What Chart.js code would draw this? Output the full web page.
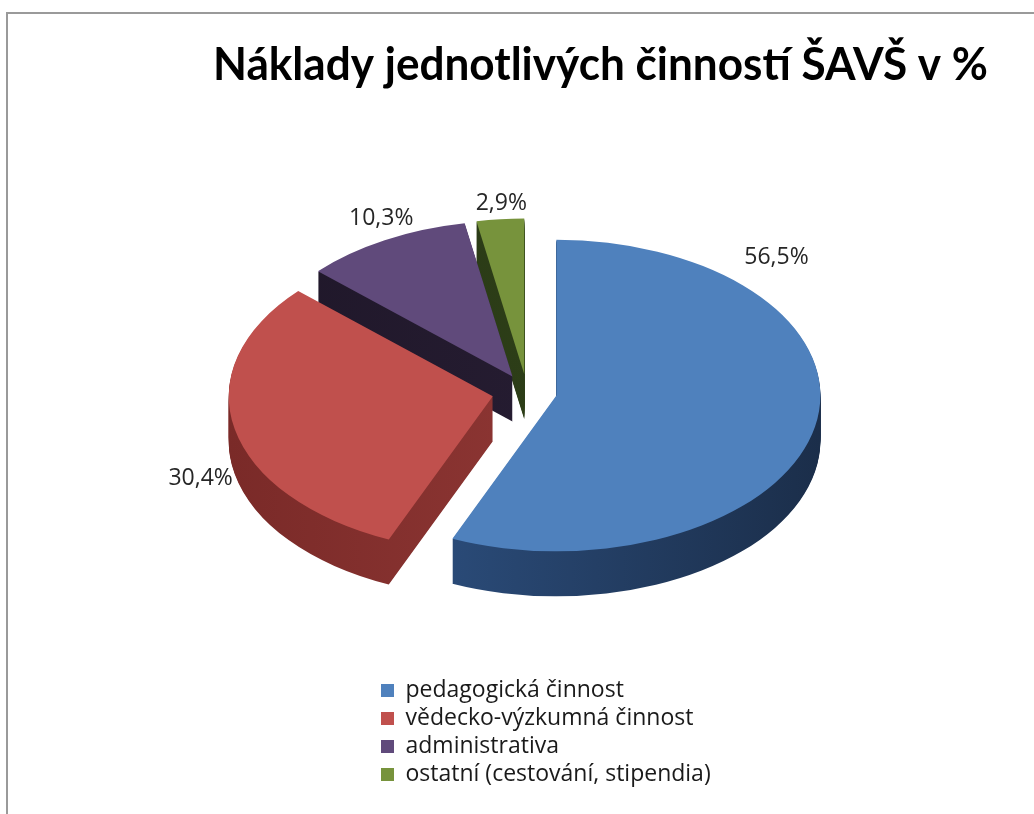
<!DOCTYPE html>
<html>
<head>
<meta charset="utf-8">
<script src="https://cdn.jsdelivr.net/npm/chart.js@4.4.1/dist/chart.umd.min.js"></script>
<style>
  html, body { margin: 0; padding: 0; background: #fff; overflow: hidden; }
  #wrap { position: relative; width: 1034px; height: 814px; }
  #c { position: absolute; left: 0; top: 0; }
  #frame { position: absolute; left: 6px; top: 12px; width: 1100px; height: 900px;
           border-left: 2px solid #9a9a9a; border-top: 2px solid #9a9a9a; pointer-events: none; }
</style>
</head>
<body>
<div id="wrap">
  <canvas id="c" width="1034" height="814"></canvas>
  <div id="frame"></div>
</div>
<script>
// ---- data ----
const chartTitle = 'Náklady jednotlivých činností ŠAVŠ v %';
const categories = ['pedagogická činnost', 'vědecko-výzkumná činnost', 'administrativa', 'ostatní (cestování, stipendia)'];
const shares = [56.5, 30.4, 10.3, 2.9];

// ---- style ----
const topColors = ['#4F81BD', '#C0504D', '#604A7B', '#77933C'];
const sideColors = [['#30568A', '#1B2E4A'], ['#7A2A28', '#9A3E3B'], ['#1F1729', '#2A2037'], ['#263514', '#33461B']];
const explode = [30, 35, 30, 30];
const labelPlace = [[0.213, 1.216], [0.377, 1.227], [0.577, 1.13], [0.565, 1.10]];
const PIE = { cx: 527, cy: 392, r: 264, tilt: 0.59, depth: 45 };
const TITLE_FONT = 'Lato, "Open Sans", "Noto Sans", sans-serif';
const TEXT_FONT = '"Open Sans", "Noto Sans", Lato, sans-serif';

function fmtPct(v) { return v.toFixed(1).replace('.', ',') + '%'; }

function drawArcWith(ctx, arc, i, fill) {
  const saved = arc.options;
  arc.options = Object.assign({}, saved, { backgroundColor: fill, borderColor: fill, borderWidth: 0, offset: 0, spacing: 0 });
  const h = (arc.startAngle + arc.endAngle) / 2;
  ctx.save();
  ctx.translate(Math.cos(h) * explode[i], Math.sin(h) * explode[i]);
  arc.draw(ctx);
  ctx.restore();
  arc.options = saved;
}

const pie3d = {
  id: 'pie3d',
  beforeDatasetsDraw(chart) {
    const ctx = chart.ctx;
    const arcs = chart.getDatasetMeta(0).data;
    const cxL = arcs[0].x, cyL = arcs[0].y;
    const sideFills = sideColors.map(([a, b]) => {
      const g = ctx.createLinearGradient(cxL - PIE.r, 0, cxL + PIE.r, 0);
      g.addColorStop(0, a); g.addColorStop(1, b);
      return g;
    });
    for (let d = PIE.depth; d >= 1; d--) {
      ctx.save();
      ctx.translate(PIE.cx - cxL, PIE.cy + d);
      ctx.scale(1, PIE.tilt);
      ctx.translate(0, -cyL);
      arcs.forEach((arc, i) => drawArcWith(ctx, arc, i, sideFills[i]));
      ctx.restore();
    }
    ctx.save();
    ctx.translate(PIE.cx - cxL, PIE.cy);
    ctx.scale(1, PIE.tilt);
    ctx.translate(0, -cyL);
    arcs.forEach((arc, i) => drawArcWith(ctx, arc, i, topColors[i]));
    ctx.restore();
    return false;
  },
  afterDraw(chart) {
    const ctx = chart.ctx;
    const arcs = chart.getDatasetMeta(0).data;
    ctx.save();
    ctx.font = '23px ' + TEXT_FONT;
    ctx.fillStyle = '#262626';
    ctx.textAlign = 'center';
    ctx.textBaseline = 'middle';
    arcs.forEach((arc, i) => {
      const [f, rf] = labelPlace[i];
      const a = arc.startAngle + f * (arc.endAngle - arc.startAngle);
      const h = (arc.startAngle + arc.endAngle) / 2;
      const R = arc.outerRadius * rf;
      const dx = Math.cos(a) * R + Math.cos(h) * explode[i];
      const dy = Math.sin(a) * R + Math.sin(h) * explode[i];
      ctx.fillText(fmtPct(shares[i]), PIE.cx + dx, PIE.cy + dy * PIE.tilt);
    });
    ctx.restore();
  }
};

const legendPlacer = {
  id: 'legendPlacer',
  afterLayout(chart) {
    const lg = chart.legend;
    if (!lg) return;
    const w = lg.width, h = lg.height;
    lg.left = 376; lg.right = 376 + w;
    lg.top = 674; lg.bottom = 674 + h;
  }
};

new Chart(document.getElementById('c'), {
  type: 'pie',
  data: {
    labels: categories,
    datasets: [{
      data: shares,
      backgroundColor: topColors,
      borderWidth: 0,
      radius: PIE.r,
      clip: false
    }]
  },
  options: {
    responsive: false,
    animation: false,
    layout: { padding: { left: 213, right: 46, top: 12, bottom: 10 } },
    plugins: {
      title: {
        display: true,
        text: chartTitle,
        color: '#000',
        font: { family: TITLE_FONT, weight: 'bold', size: 46 },
        padding: { top: 26, bottom: 10 }
      },
      legend: {
        display: true,
        position: 'left',
        align: 'start',
        labels: {
          font: { family: TEXT_FONT, size: 23 },
          color: '#1a1a1a',
          boxWidth: 13,
          boxHeight: 13,
          padding: 5
        }
      },
      tooltip: { enabled: false }
    }
  },
  plugins: [pie3d, legendPlacer]
});
</script>
</body>
</html>
